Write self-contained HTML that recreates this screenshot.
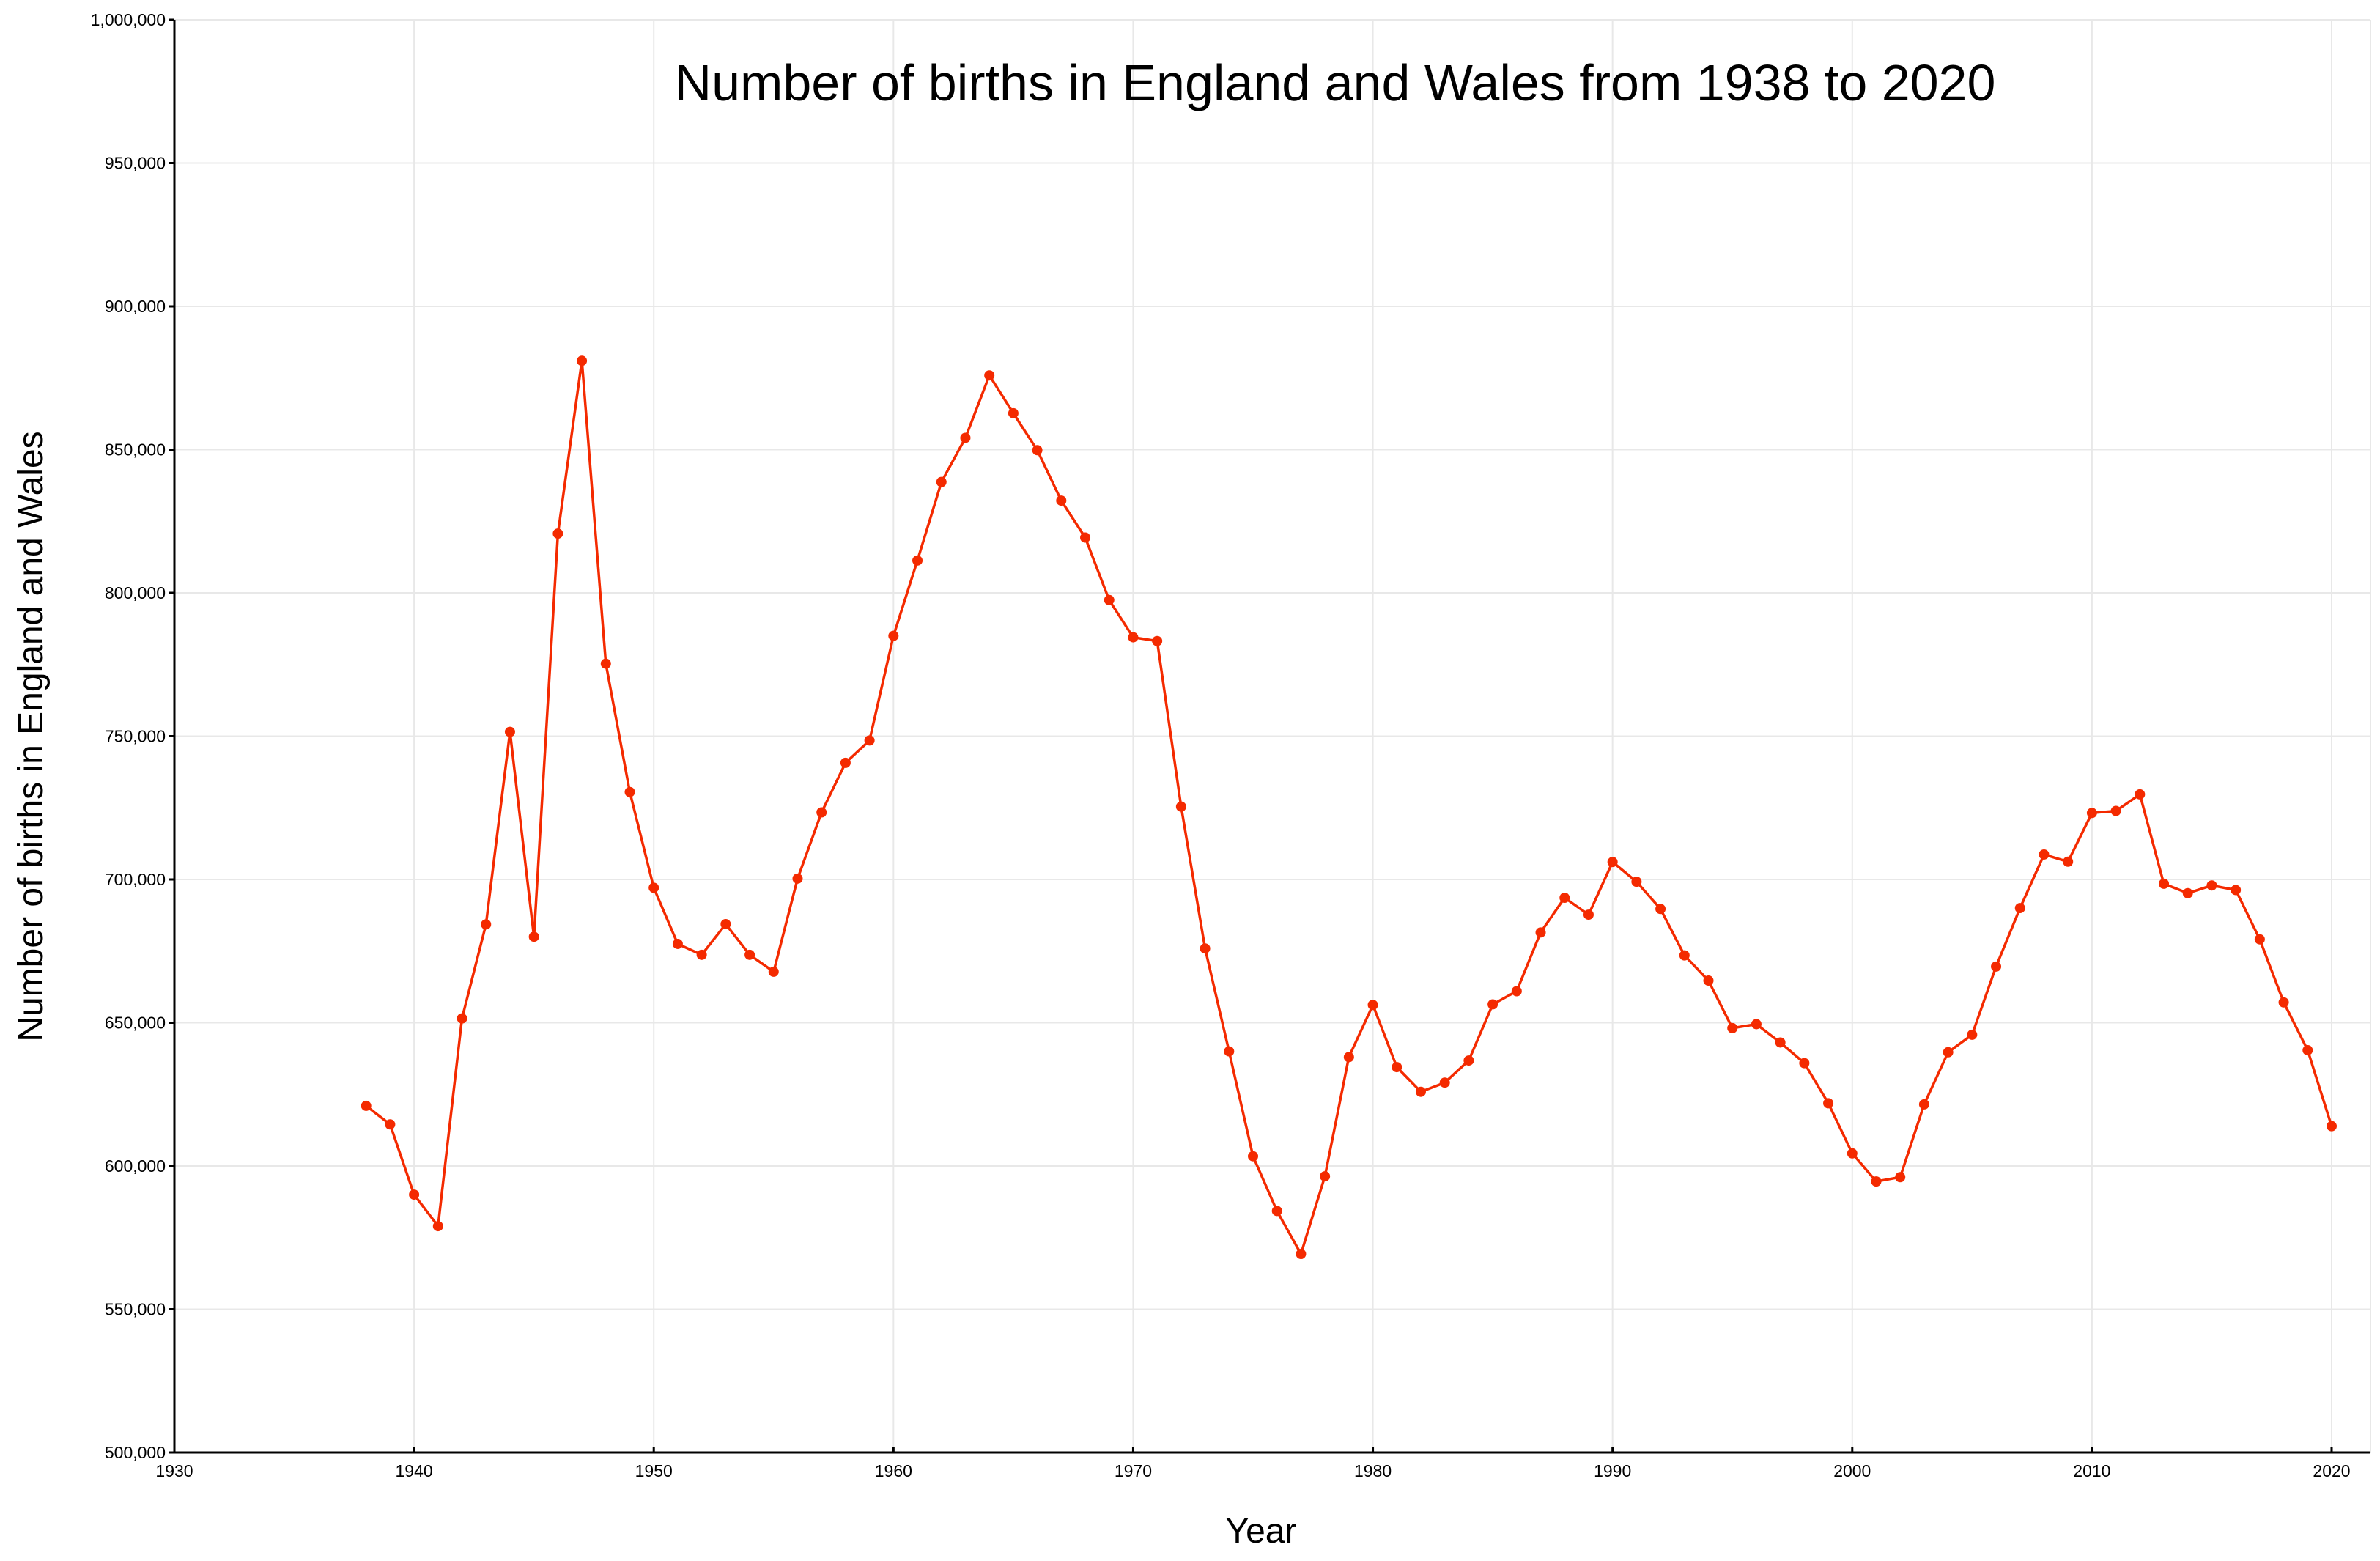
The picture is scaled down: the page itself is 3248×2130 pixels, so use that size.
<!DOCTYPE html>
<html><head><meta charset="utf-8"><style>
html,body{margin:0;padding:0;background:#fff;}
svg{display:block;font-family:"Liberation Sans",sans-serif;}
</style></head><body>
<svg id="chart" width="3248" height="2130" viewBox="0 0 3248 2130">
<g id="grid"></g>
<g id="axes"></g>
<g id="series"></g>
<text x="1822" y="137" font-size="70" text-anchor="middle" fill="#000">Number of births in England and Wales from 1938 to 2020</text>
<text x="1721" y="2105" font-size="48" text-anchor="middle" fill="#000">Year</text>
<text transform="translate(58,1005) rotate(-90)" font-size="48" text-anchor="middle" fill="#000">Number of births in England and Wales</text>
</svg>
<script>
const years = [1938,1939,1940,1941,1942,1943,1944,1945,1946,1947,1948,1949,1950,1951,1952,1953,1954,1955,1956,1957,1958,1959,1960,1961,1962,1963,1964,1965,1966,1967,1968,1969,1970,1971,1972,1973,1974,1975,1976,1977,1978,1979,1980,1981,1982,1983,1984,1985,1986,1987,1988,1989,1990,1991,1992,1993,1994,1995,1996,1997,1998,1999,2000,2001,2002,2003,2004,2005,2006,2007,2008,2009,2010,2011,2012,2013,2014,2015,2016,2017,2018,2019,2020];
const births = [621000,614500,590000,579000,651500,684300,751500,680000,820700,881000,775300,730500,697100,677500,673700,684400,673700,667800,700300,723400,740700,748500,785000,811300,838700,854100,875900,862700,849800,832200,819300,797500,784500,783200,725400,675900,640000,603400,584300,569300,596400,638000,656200,634500,625900,629100,636800,656400,661000,681500,693600,687700,706100,699200,689700,673500,664700,648100,649500,643100,635900,621900,604400,594600,596100,621500,639700,645800,669600,690000,708700,706200,723200,723900,729700,698500,695200,697900,696300,679100,657100,640400,613900];
const xTicks = [1930,1940,1950,1960,1970,1980,1990,2000,2010,2020];
const yTicks = [500000,550000,600000,650000,700000,750000,800000,850000,900000,950000,1000000];

const NS="http://www.w3.org/2000/svg";
const L=238, R=3235, T=27, B=1982;
const X0=1930, X1=2020, XP0=238, XP1=3182;
function sx(v){return XP0+(v-X0)/(X1-X0)*(XP1-XP0);}
function sy(v){return B-(v-500000)/(1000000-500000)*(B-T);}
function mk(tag,attrs,parent){const e=document.createElementNS(NS,tag);for(const k in attrs)e.setAttribute(k,attrs[k]);parent.appendChild(e);return e;}
const grid=document.getElementById('grid'), axes=document.getElementById('axes'), series=document.getElementById('series');
yTicks.forEach(v=>{
  const y=sy(v);
  const g=mk('line',{x1:L,x2:R,y1:y,y2:y,stroke:'#e8e8e8','stroke-width':2},grid);
  
  
  const t=mk('line',{x1:L-8,x2:L,y1:y,y2:y,stroke:'#000','stroke-width':3},axes);
  
  
  const lb=mk('text',{x:L-12,y:y+8,'font-size':23,'text-anchor':'end',fill:'#000'},axes);
  lb.textContent=v.toLocaleString('en-US');
  
  
});
xTicks.forEach(v=>{
  const x=sx(v);
  const g=mk('line',{x1:x,x2:x,y1:T,y2:B,stroke:'#e8e8e8','stroke-width':2},grid);
  
  
  const t=mk('line',{x1:x,x2:x,y1:B-8,y2:B,stroke:'#000','stroke-width':3},axes);
  
  
  const lb=mk('text',{x:x,y:B+33,'font-size':23,'text-anchor':'middle',fill:'#000'},axes);
  lb.textContent=String(v);
  
  
});
const rg=mk('line',{x1:R,x2:R,y1:T,y2:B,stroke:'#e8e8e8','stroke-width':2},grid);


const ya=mk('line',{x1:L,x2:L,y1:T,y2:B+1,stroke:'#000','stroke-width':3},axes);


const xa=mk('line',{x1:L,x2:R,y1:B,y2:B,stroke:'#000','stroke-width':3},axes);


const pts=years.map((y,i)=>sx(y).toFixed(1)+','+sy(births[i]).toFixed(1)).join(' ');
const pl=mk('polyline',{points:pts,fill:'none',stroke:'#f42a00','stroke-width':3.5,'stroke-linejoin':'round'},series);


years.forEach((y,i)=>{
  const c=mk('circle',{cx:sx(y),cy:sy(births[i]),r:7,fill:'#f42a00'},series);
  
  
});
</script>
</body></html>
